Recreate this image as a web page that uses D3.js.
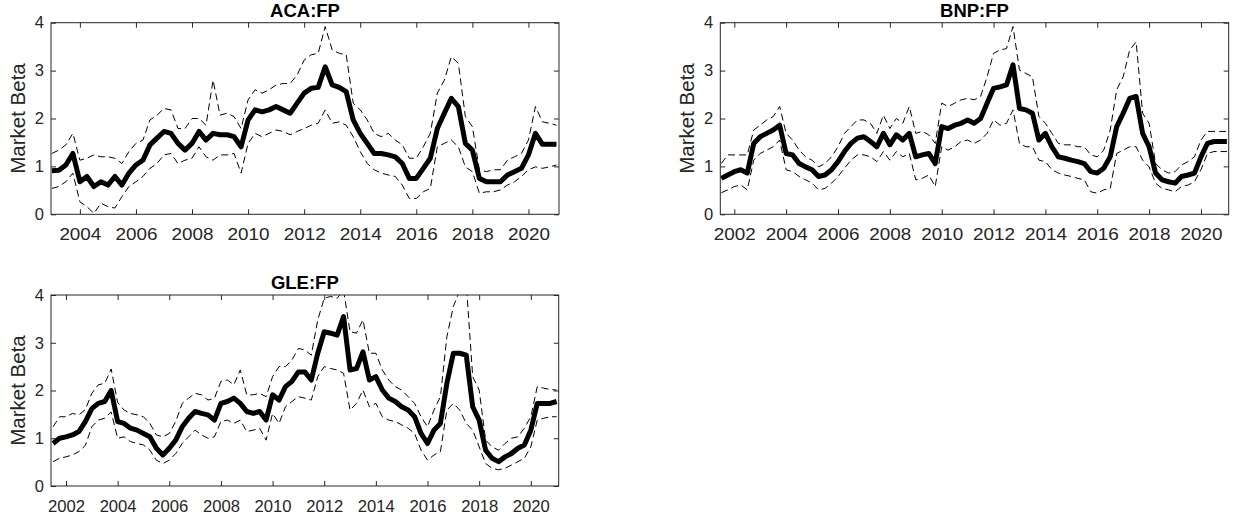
<!DOCTYPE html>
<html>
<head>
<meta charset="utf-8">
<script src="https://cdn.jsdelivr.net/npm/d3@7"></script>
<style>
  body { margin: 0; background: #fff; }
  svg { display: block; font-family: "Liberation Sans", Arial, Helvetica, sans-serif; }
</style>
</head>
<body>
<svg id="chart" width="1237" height="525"></svg>
<script>
// quarterly sample dates (decimal years)
const quarters = [
  2001.5, 2001.75,
  2002, 2002.25, 2002.5, 2002.75, 2003, 2003.25, 2003.5, 2003.75,
  2004, 2004.25, 2004.5, 2004.75, 2005, 2005.25, 2005.5, 2005.75,
  2006, 2006.25, 2006.5, 2006.75, 2007, 2007.25, 2007.5, 2007.75,
  2008, 2008.25, 2008.5, 2008.75, 2009, 2009.25, 2009.5, 2009.75,
  2010, 2010.25, 2010.5, 2010.75, 2011, 2011.25, 2011.5, 2011.75,
  2012, 2012.25, 2012.5, 2012.75, 2013, 2013.25, 2013.5, 2013.75,
  2014, 2014.25, 2014.5, 2014.75, 2015, 2015.25, 2015.5, 2015.75,
  2016, 2016.25, 2016.5, 2016.75, 2017, 2017.25, 2017.5, 2017.75,
  2018, 2018.25, 2018.5, 2018.75, 2019, 2019.25, 2019.5, 2019.75,
  2020, 2020.25, 2020.5, 2020.75, 2021
];
const acaQuarters = quarters.slice(6); // ACA starts in 2003

const yearTicks = [2002, 2004, 2006, 2008, 2010, 2012, 2014, 2016, 2018, 2020];
const betaTicks = [0, 1, 2, 3, 4];

// ACA:FP
const acaMid = [
  0.91, 0.92, 1.03, 1.27, 0.68, 0.79, 0.58, 0.68, 0.61, 0.79, 0.61, 0.86,
  1.03, 1.13, 1.45, 1.59, 1.73, 1.69, 1.48, 1.34, 1.48, 1.73, 1.55, 1.69,
  1.66, 1.66, 1.62, 1.41, 1.97, 2.18, 2.14, 2.18, 2.25, 2.18, 2.11, 2.32,
  2.53, 2.63, 2.65, 3.08, 2.70, 2.65, 2.56, 1.97, 1.69, 1.48, 1.27, 1.27,
  1.24, 1.20, 1.06, 0.75, 0.75, 0.96, 1.17, 1.79, 2.11, 2.42, 2.25, 1.48,
  1.34, 0.75, 0.68, 0.68, 0.68, 0.82, 0.89, 0.96, 1.24, 1.69, 1.46, 1.46,
  1.46
];
const acaHigh = [
  1.27, 1.34, 1.45, 1.69, 1.13, 1.17, 1.24, 1.20, 1.20, 1.17, 1.06, 1.31,
  1.48, 1.55, 1.97, 2.07, 2.21, 2.18, 1.79, 1.79, 2.00, 2.00, 1.86, 2.80,
  2.07, 2.11, 2.04, 1.79, 2.39, 2.60, 2.53, 2.60, 2.70, 2.73, 2.73, 2.91,
  3.22, 3.33, 3.36, 3.92, 3.43, 3.36, 3.33, 2.32, 2.18, 1.97, 1.69, 1.62,
  1.69, 1.55, 1.45, 1.17, 1.17, 1.41, 1.69, 2.53, 2.80, 3.29, 3.15, 2.04,
  1.83, 0.93, 0.89, 0.93, 0.93, 1.13, 1.20, 1.27, 1.55, 2.25, 1.93, 1.90,
  1.86
];
const acaLow = [
  0.54, 0.58, 0.68, 0.86, 0.26, 0.16, 0.02, 0.23, 0.16, 0.13, 0.37, 0.58,
  0.68, 0.79, 0.96, 1.06, 1.24, 1.27, 1.06, 1.13, 1.17, 1.41, 1.20, 1.13,
  1.24, 1.24, 1.27, 0.86, 1.48, 1.69, 1.62, 1.69, 1.76, 1.73, 1.66, 1.73,
  1.79, 1.86, 1.90, 2.18, 1.90, 1.93, 1.86, 1.62, 1.31, 1.06, 0.93, 0.86,
  0.82, 0.79, 0.61, 0.33, 0.33, 0.47, 0.54, 1.41, 1.48, 1.55, 1.41, 0.99,
  0.89, 0.44, 0.47, 0.47, 0.51, 0.61, 0.68, 0.79, 0.93, 0.99, 0.96, 0.99,
  1.03
];

// BNP:FP
const bnpMid = [
  0.75, 0.82,
  0.89, 0.93, 0.86, 1.48, 1.62, 1.69, 1.76, 1.86, 1.27, 1.24, 1.06, 0.99,
  0.93, 0.79, 0.82, 0.93, 1.10, 1.31, 1.48, 1.59, 1.62, 1.52, 1.41, 1.69,
  1.45, 1.66, 1.55, 1.69, 1.20, 1.24, 1.27, 1.06, 1.83, 1.79, 1.86, 1.90,
  1.97, 1.90, 2.00, 2.32, 2.63, 2.66, 2.70, 3.12, 2.21, 2.18, 2.11, 1.55,
  1.69, 1.41, 1.20, 1.17, 1.13, 1.10, 1.06, 0.89, 0.86, 0.96, 1.20, 1.83,
  2.11, 2.42, 2.46, 1.69, 1.41, 0.86, 0.72, 0.68, 0.65, 0.79, 0.82, 0.86,
  1.20, 1.48, 1.52, 1.52, 1.52
];
const bnpHigh = [
  1.06, 1.24,
  1.24, 1.24, 1.24, 1.76, 1.86, 1.97, 2.04, 2.25, 1.69, 1.55, 1.34, 1.20,
  1.13, 0.99, 1.06, 1.20, 1.41, 1.69, 1.83, 1.97, 1.97, 1.90, 1.69, 2.07,
  1.79, 2.00, 1.90, 2.25, 1.69, 1.73, 1.66, 1.48, 2.32, 2.25, 2.32, 2.39,
  2.42, 2.39, 2.46, 2.87, 3.36, 3.43, 3.46, 3.92, 3.01, 2.94, 2.87, 2.04,
  1.90, 1.69, 1.48, 1.45, 1.45, 1.41, 1.41, 1.24, 1.20, 1.34, 1.76, 2.60,
  2.87, 3.43, 3.60, 2.11, 1.90, 1.06, 0.93, 0.86, 0.89, 1.03, 1.10, 1.20,
  1.55, 1.73, 1.73, 1.73, 1.73
];
const bnpLow = [
  0.45, 0.51,
  0.58, 0.61, 0.51, 1.13, 1.27, 1.34, 1.41, 1.55, 0.93, 0.89, 0.79, 0.72,
  0.65, 0.51, 0.54, 0.65, 0.79, 0.96, 1.13, 1.24, 1.24, 1.20, 1.10, 1.31,
  1.13, 1.31, 1.20, 1.27, 0.72, 0.75, 0.82, 0.58, 1.41, 1.34, 1.41, 1.52,
  1.55, 1.48, 1.55, 1.69, 1.97, 1.86, 1.90, 2.18, 1.48, 1.41, 1.41, 1.13,
  1.10, 0.93, 0.86, 0.82, 0.79, 0.75, 0.72, 0.47, 0.44, 0.51, 0.54, 1.27,
  1.34, 1.41, 1.41, 1.13, 0.99, 0.65, 0.54, 0.51, 0.47, 0.58, 0.61, 0.68,
  0.93, 1.27, 1.31, 1.31, 1.31
];

// GLE:FP
const gleMid = [
  0.89, 1.00,
  1.03, 1.07, 1.14, 1.35, 1.62, 1.73, 1.77, 2.00, 1.35, 1.31, 1.21, 1.17,
  1.10, 1.03, 0.79, 0.65, 0.79, 0.96, 1.24, 1.42, 1.56, 1.52, 1.49, 1.38,
  1.73, 1.77, 1.84, 1.73, 1.56, 1.52, 1.56, 1.38, 1.91, 1.80, 2.08, 2.19,
  2.39, 2.39, 2.22, 2.78, 3.23, 3.20, 3.16, 3.55, 2.43, 2.46, 2.81, 2.22,
  2.29, 2.01, 1.84, 1.77, 1.66, 1.59, 1.45, 1.10, 0.89, 1.17, 1.31, 2.15,
  2.78, 2.78, 2.74, 1.66, 1.38, 0.75, 0.58, 0.51, 0.61, 0.68, 0.79, 0.86,
  1.17, 1.73, 1.73, 1.73, 1.77
];
const gleHigh = [
  1.24, 1.45,
  1.45, 1.52, 1.49, 1.60, 1.94, 2.12, 2.15, 2.45, 1.75, 1.59, 1.52, 1.49,
  1.45, 1.31, 1.07, 1.03, 1.10, 1.35, 1.73, 1.84, 1.94, 1.91, 1.80, 1.84,
  2.19, 2.22, 2.12, 2.43, 1.91, 1.91, 1.94, 1.87, 2.29, 2.50, 2.50, 2.64,
  2.88, 2.85, 2.74, 3.48, 3.93, 3.97, 3.93, 4.10, 3.23, 3.20, 3.48, 2.78,
  2.78, 2.43, 2.22, 2.08, 2.01, 1.87, 1.73, 1.45, 1.24, 1.59, 1.87, 3.13,
  3.76, 4.10, 4.24, 2.29, 2.01, 0.96, 0.82, 0.75, 0.89, 1.00, 1.03, 1.21,
  1.45, 2.08, 2.05, 2.02, 2.01
];
const gleLow = [
  0.51, 0.58,
  0.61, 0.65, 0.72, 0.85, 1.24, 1.38, 1.42, 1.55, 1.00, 1.03, 0.93, 0.89,
  0.86, 0.75, 0.54, 0.47, 0.54, 0.68, 0.89, 1.03, 1.17, 1.07, 1.00, 1.03,
  1.35, 1.38, 1.31, 1.38, 1.14, 1.17, 1.21, 0.96, 1.52, 1.31, 1.66, 1.77,
  1.87, 1.84, 1.80, 2.29, 2.50, 2.46, 2.43, 2.36, 1.59, 1.73, 2.01, 1.66,
  1.73, 1.45, 1.38, 1.35, 1.28, 1.21, 1.10, 0.75, 0.54, 0.65, 0.72, 1.59,
  1.73, 1.59, 1.31, 1.17, 0.82, 0.47, 0.37, 0.34, 0.37, 0.44, 0.51, 0.58,
  0.82, 1.38, 1.42, 1.45, 1.45
];

const panels = [
  { title: "ACA:FP", dates: acaQuarters, mid: acaMid, hi: acaHigh, lo: acaLow,
    domain: [2002.97, 2021.09], left: 51, top: 22.7, width: 508, height: 191.6, labelLen: 42 },
  { title: "BNP:FP", dates: quarters, mid: bnpMid, hi: bnpHigh, lo: bnpLow,
    domain: [2001.46, 2021.07], left: 720.3, top: 22.7, width: 508.4, height: 191.6, labelLen: 42 },
  { title: "GLE:FP", dates: quarters, mid: gleMid, hi: gleHigh, lo: gleLow,
    domain: [2001.42, 2021.08], left: 51, top: 295, width: 507.7, height: 191, labelLen: 37 }
];

const svg = d3.select("#chart");
const axisColor = "#262626";

function drawPanel(p) {
  const g = svg.append("g").attr("transform", `translate(${p.left},${p.top})`);
  const x = d3.scaleLinear().domain(p.domain).range([0, p.width]);
  const y = d3.scaleLinear().domain([0, 4]).range([p.height, 0]);
  const ticks = yearTicks.filter(t => t >= p.domain[0] && t <= p.domain[1]);

  const clipId = "clip-" + p.title.replace(":", "");
  g.append("clipPath").attr("id", clipId)
    .append("rect").attr("width", p.width).attr("height", p.height);
  const plot = g.append("g").attr("clip-path", `url(#${clipId})`);

  const line = d3.line()
    .x((d, i) => x(p.dates[i]))
    .y(d => y(d));

  [p.hi, p.lo].forEach(band => {
    plot.append("path")
      .datum(band)
      .attr("d", line)
      .attr("fill", "none")
      .attr("stroke", "#000")
      .attr("stroke-width", 1)
      .attr("stroke-dasharray", "7,4");
  });

  plot.append("path")
    .datum(p.mid)
    .attr("d", line)
    .attr("fill", "none")
    .attr("stroke", "#000")
    .attr("stroke-width", 5)
    .attr("stroke-linejoin", "round");

  // axes, ticks pointing inwards on all four sides
  const xAxis = g.append("g")
    .attr("transform", `translate(0,${p.height})`)
    .call(d3.axisBottom(x).tickValues(ticks).tickFormat(d3.format("d"))
      .tickSizeInner(-5).tickSizeOuter(0).tickPadding(14));

  g.append("g")
    .call(d3.axisTop(x).tickValues(ticks).tickFormat("")
      .tickSizeInner(-5).tickSizeOuter(0));

  g.append("g")
    .call(d3.axisLeft(y).tickValues(betaTicks).tickFormat(d3.format("d"))
      .tickSizeInner(-5).tickSizeOuter(0).tickPadding(7));

  g.append("g")
    .attr("transform", `translate(${p.width},0)`)
    .call(d3.axisRight(y).tickValues(betaTicks).tickFormat("")
      .tickSizeInner(-5).tickSizeOuter(0));

  g.selectAll(".domain").remove();
  g.selectAll(".tick line").attr("stroke", axisColor);
  g.selectAll(".tick text")
    .attr("fill", axisColor)
    .style("font-size", "16.5px")
    .style("font-family", "'Liberation Sans', Arial, sans-serif");
  xAxis.selectAll("text")
    .attr("textLength", p.labelLen)
    .attr("lengthAdjust", "spacingAndGlyphs");

  g.append("rect")
    .attr("width", p.width)
    .attr("height", p.height)
    .attr("fill", "none")
    .attr("stroke", axisColor)
    .attr("stroke-width", 1);

  g.append("text")
    .attr("x", p.width / 2)
    .attr("y", -6)
    .attr("text-anchor", "middle")
    .style("font-weight", "bold")
    .style("font-size", "18.5px")
    .attr("fill", "#000")
    .text(p.title);

  g.append("text")
    .attr("transform", `translate(-26,${p.height / 2}) rotate(-90)`)
    .attr("text-anchor", "middle")
    .style("font-size", "20.5px")
    .attr("fill", axisColor)
    .text("Market Beta");
}

panels.forEach(drawPanel);
</script>
</body>
</html>
